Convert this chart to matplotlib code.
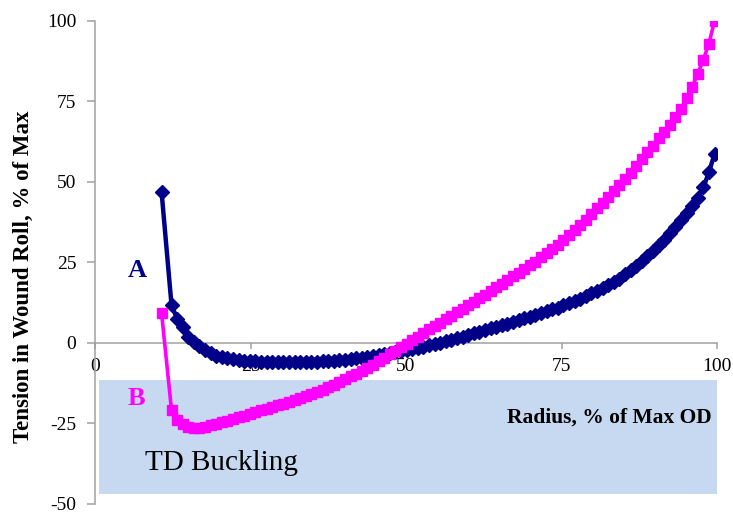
import matplotlib
matplotlib.use("Agg")
import matplotlib.pyplot as plt
from matplotlib.patches import Rectangle

plt.rcParams['font.family'] = ['Liberation Serif', 'DejaVu Serif']
plt.rcParams['axes.unicode_minus'] = False

# radius, % of max OD
radius = [10.7, 12.3, 13.2, 14.1, 15.0, 15.9, 16.8, 17.7, 18.6, 19.5,
          20.4, 21.3, 22.2, 23.1, 24.0, 24.9, 25.8, 26.7, 27.6, 28.5,
          29.4, 30.3, 31.2, 32.1, 33.0, 33.9, 34.8, 35.7, 36.6, 37.5,
          38.4, 39.3, 40.2, 41.1, 42.0, 42.9, 43.8, 44.7, 45.6, 46.5,
          47.4, 48.3, 49.2, 50.1, 51.0, 51.9, 52.8, 53.7, 54.6, 55.5,
          56.4, 57.3, 58.2, 59.1, 60.0, 60.9, 61.8, 62.7, 63.6, 64.5,
          65.4, 66.3, 67.2, 68.1, 69.0, 69.9, 70.8, 71.7, 72.6, 73.5,
          74.4, 75.3, 76.2, 77.1, 78.0, 78.9, 79.8, 80.7, 81.6, 82.5,
          83.4, 84.3, 85.2, 86.1, 87.0, 87.9, 88.8, 89.7, 90.6, 91.5,
          92.4, 93.3, 94.2, 95.1, 96.0, 96.9, 97.8, 98.7, 99.6]

# curve A (navy)
tension_a = [47.0, 11.8, 7.5, 5.0, 2.0, 0.3, -1.0, -2.2, -3.2, -3.9,
             -4.4, -4.8, -5.1, -5.3, -5.5, -5.6, -5.7, -5.8, -5.9, -5.9,
             -6.0, -6.0, -6.0, -6.0, -6.0, -5.9, -5.9, -5.8, -5.7, -5.6,
             -5.5, -5.3, -5.2, -5.0, -4.8, -4.6, -4.3, -4.1, -3.8, -3.5,
             -3.2, -2.9, -2.6, -2.3, -1.9, -1.5, -1.1, -0.7, -0.3, 0.1,
             0.6, 1.0, 1.5, 2.0, 2.5, 3.0, 3.5, 4.0, 4.5, 5.0,
             5.5, 6.0, 6.5, 7.0, 7.6, 8.1, 8.7, 9.2, 9.8, 10.4,
             11.0, 11.7, 12.4, 13.1, 13.8, 14.6, 15.4, 16.2, 17.1, 18.0,
             19.0, 20.0, 21.3, 22.6, 24.0, 25.5, 27.0, 28.6, 30.3, 32.1,
             34.0, 36.0, 38.1, 40.3, 42.6, 45.1, 48.3, 53.0, 58.7]

# curve B (magenta)
tension_b = [9.3, -20.8, -23.8, -25.3, -26.1, -26.5, -26.5, -26.1, -25.6, -25.1,
             -24.6, -24.1, -23.6, -23.1, -22.6, -22.0, -21.5, -20.9, -20.4, -19.9,
             -19.3, -18.8, -18.2, -17.7, -17.1, -16.6, -16.0, -15.3, -14.5, -13.7,
             -12.9, -12.1, -11.3, -10.4, -9.6, -8.8, -7.8, -6.7, -5.6, -4.6,
             -3.5, -2.4, -1.3, -0.2, 0.9, 2.0, 3.1, 4.2, 5.2, 6.3,
             7.4, 8.5, 9.6, 10.6, 11.7, 12.8, 13.9, 15.0, 16.2, 17.3,
             18.4, 19.6, 20.7, 21.8, 23.0, 24.1, 25.3, 26.6, 27.9, 29.2,
             30.5, 31.9, 33.5, 35.1, 36.7, 38.3, 40.0, 41.8, 43.6, 45.4,
             47.2, 49.0, 50.9, 52.9, 55.0, 57.1, 59.2, 61.3, 63.5, 65.6,
             67.8, 70.1, 72.8, 76.0, 79.6, 83.6, 88.0, 93.0, 100.0]

xticks = [0, 25, 50, 75, 100]
yticks = [-50, -25, 0, 25, 50, 75, 100]

fig = plt.figure(figsize=(7.33, 5.15), dpi=100)
ax = fig.add_axes([0.1296, 0.0214, 0.8486, 0.9379])

# buckling zone
ax.add_patch(Rectangle((0.6, -47.0), 99.7, 35.5, facecolor='#c6d9f0',
                       edgecolor='none', zorder=1))

ax.plot(radius, tension_a, color='#000088', lw=3.2, marker='D', ms=7.5,
        mec='#000088', zorder=3)
ax.plot(radius, tension_b, color='#ff00ff', lw=2.6, marker='s', ms=6.8,
        mec='#ff00ff', zorder=4)

ax.set_xlim(0, 100)
ax.set_ylim(-50, 100)
ax.set_xticks(xticks)
ax.set_yticks(yticks)

for s in ['top', 'right']:
    ax.spines[s].set_visible(False)
ax.spines['bottom'].set_position(('data', 0))
for s in ['left', 'bottom']:
    ax.spines[s].set_color('#a0a0a0')
    ax.spines[s].set_linewidth(1.1)
    ax.spines[s].set_zorder(2)

ax.tick_params(axis='x', direction='out', length=4, width=1.1, color='#a0a0a0',
               labelsize=14, pad=7)
ax.tick_params(axis='y', direction='out', length=5.5, width=1.1, color='#a0a0a0',
               labelsize=14, pad=8)

ax.text(5.3, 20.5, 'A', color='#000088', fontsize=19, fontweight='bold',
        ha='left', va='baseline')
ax.text(5.3, -19.3, 'B', color='#ff00ff', fontsize=19, fontweight='bold',
        ha='left', va='baseline')
ax.text(8.0, -39.4, 'TD Buckling', fontsize=21, ha='left', va='baseline', zorder=5)
ax.text(99.1, -24.6, 'Radius, % of Max OD', fontsize=15.5, fontweight='bold',
        ha='right', va='baseline', zorder=5)

fig.text(0.0314, 0.462, 'Tension in Wound Roll, % of Max', rotation=90,
         fontsize=16.5, fontweight='bold', ha='center', va='center')

fig.savefig('out.png', dpi=100)
